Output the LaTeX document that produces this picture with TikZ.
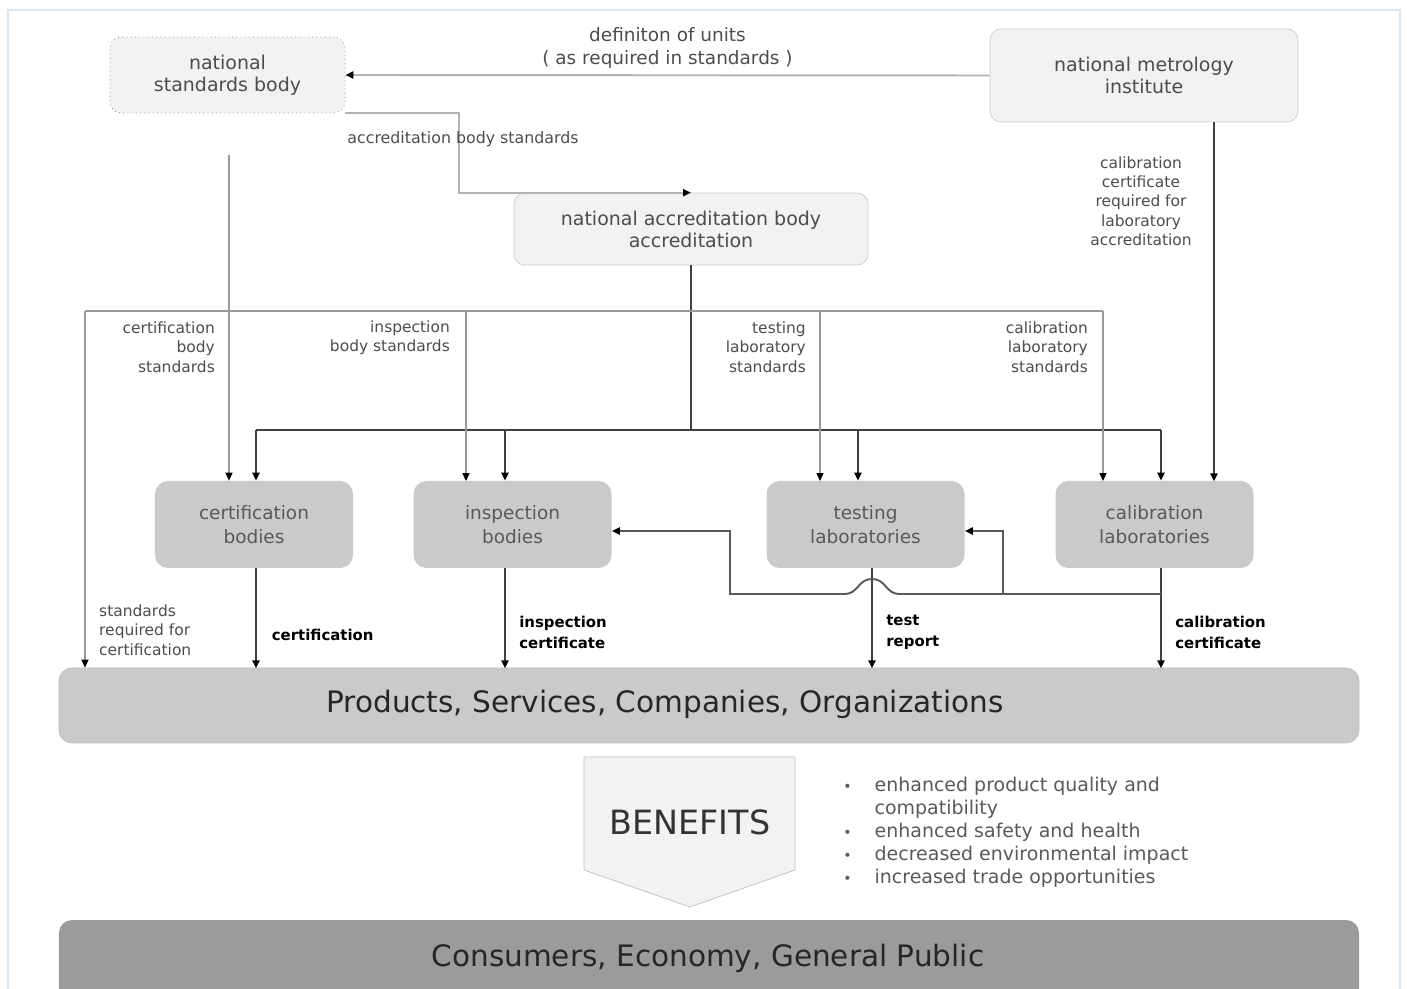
\documentclass[tikz,border=0pt]{standalone}
\usepackage{fontspec}
\setmainfont{DejaVu Sans}
\usetikzlibrary{arrows.meta}
\definecolor{paleface}{HTML}{F2F2F2}
\definecolor{labface}{HTML}{CACACA}
\definecolor{publicface}{HTML}{9B9B9B}
\definecolor{framecol}{HTML}{D8E7F2}
\newcommand{\fsz}[2]{\fontsize{#1}{#2}\selectfont}

\begin{document}
\begin{tikzpicture}[x=0.2mm, y=-0.2mm,
    >={Triangle[length=4.5pt,width=4pt,color=black]},
    paleblock/.style={draw=black!20, fill=paleface, rounded corners=2.2mm, align=center, text=black!70, font=\fsz{10.8}{12.5}},
    labblock/.style={fill=labface, rounded corners=2.6mm, align=center, text=black!65, font=\fsz{10.5}{13.7}, minimum width=39.6mm, minimum height=17.4mm, inner sep=0pt},
    barblock/.style={fill=labface, draw=black!25, rounded corners=2.6mm, minimum width=260mm, minimum height=15mm},
    notetext/.style={align=right, text=black!70, font=\fsz{8.8}{11}},
    outtext/.style={align=left, text=black, font=\bfseries\fsz{8.5}{12}},
    busline/.style={draw=black!75, line width=1.1pt},
    stdline/.style={draw=black!40, line width=0.6pt},
    softline/.style={draw=black!30, line width=1.1pt},
    feedline/.style={draw=black!65, line width=1.1pt}]

  \useasboundingbox (0,0) rectangle (1407,989);
  \clip (0,0) rectangle (1407,989);
  \draw[framecol, line width=0.8pt] (8,10) rectangle (1400,1005);

  % top row
  \node[paleblock, dotted, draw=black!55, minimum width=47mm, minimum height=15.2mm] (nsb) at (227.5,75) {national\\standards body};
  \node[paleblock, minimum width=61.6mm, minimum height=18.6mm] (nmi) at (1144,75.5) {national metrology\\institute};
  \node[paleblock, minimum width=70.8mm, minimum height=14.4mm] (nab) at (691,229) {national accreditation body\\accreditation};

  % bodies and laboratories
  \node[labblock] (cert) at (254,524.5) {certification\\bodies};
  \node[labblock] (insp) at (512.5,524.5) {inspection\\bodies};
  \node[labblock] (test) at (865.5,524.5) {testing\\laboratories};
  \node[labblock] (calib) at (1154.5,524.5) {calibration\\laboratories};

  % bars
  \node[barblock] (prod) at (709,705.5) {};
  \node[font=\fsz{16.8}{20}, text=black!85] (prodtext) at (665,704) {Products, Services, Companies, Organizations};
  \node[barblock, fill=publicface, draw=none, minimum height=18mm] (pub) at (709,965) {};
  \node[font=\fsz{16.8}{20}, text=black!85] (pubtext) at (708,958) {Consumers, Economy, General Public};

  % benefits
  \draw[draw=black!25, fill=paleface] (584,757) -- (795,757) -- (795,870) -- (690,907) -- (584,870) -- cycle;
  \node[font=\fsz{19}{22}, text=black!80] (benefits) at (690,822) {BENEFITS};
  \node[anchor=west, align=left, text=black!65, font=\fsz{10.8}{13}, inner sep=0pt] (gains) at (843,833)
    {\begin{tabular}{@{}l@{\hspace{4.6mm}}l@{}}
      {\fsz{8}{8}\textbullet} & enhanced product quality and\\
                              & compatibility\\
      {\fsz{8}{8}\textbullet} & enhanced safety and health\\
      {\fsz{8}{8}\textbullet} & decreased environmental impact\\
      {\fsz{8}{8}\textbullet} & increased trade opportunities
    \end{tabular}};

  % units and accreditation standards
  \draw[softline, ->] (nmi.west) -- (nsb.east)
    node[midway, above=0pt, notetext, align=center, font=\fsz{10.5}{13}] {definiton of units\\( as required in standards )};
  \draw[softline, ->] (nsb.south east) -- ++(114,0) |- (nab.north);
  \node[notetext, font=\fsz{9}{10}] (abs) at (463,139) {accreditation body standards};

  \coordinate (nsbfoot) at (229,155);
  \draw[stdline, ->] (nsbfoot) -- (nsbfoot |- cert.north);

  % accreditation bus
  \coordinate (hub) at (691,430);
  \draw[busline] (nab.south) -- (hub);
  \draw[busline] (256,430) -- (1161,430);
  \foreach \n/\d in {cert/0.4mm, insp/-1.5mm, test/-1.5mm, calib/1.3mm}
    \draw[busline, <-] ([xshift=\d]\n.north) -- ++(0,-51);

  % standards line
  \coordinate (stdL) at (85,311);
  \coordinate (stdR) at (1103,311);
  \draw[stdline] (stdL) -- (stdR);
  \draw[stdline, ->] (stdL) -- (stdL |- prod.north);
  \foreach \x in {466, 820, 1103}
    \draw[stdline, ->] (\x,311) -- ++(0,170);

  \node[notetext, anchor=east] at (221,347) {certification\\body\\standards};
  \node[notetext, anchor=east] at (456,338) {inspection\\body standards};
  \node[notetext, anchor=east] at (812,347) {testing\\laboratory\\standards};
  \node[notetext, anchor=east] at (1094,347) {calibration\\laboratory\\standards};
  \node[notetext, align=left, anchor=west] at (93,630) {standards\\required for\\certification};

  % metrology
  \draw[busline, ->] ([xshift=14mm]nmi.south) -- ++(0,359);
  \node[notetext, align=center] at (1141,201) {calibration\\certificate\\required for\\laboratory\\accreditation};

  % outputs
  \draw[busline, ->] ([xshift=0.4mm]cert.south) -- ++(0,100) node[outtext, pos=0.67, right=1.8mm] {certification};
  \draw[busline, ->] ([xshift=-1.5mm]insp.south) -- ++(0,100) node[outtext, pos=0.64, right=1.5mm] {inspection\\certificate};
  \draw[busline, ->] ([xshift=1.3mm]test.south) -- ++(0,100) node[outtext, pos=0.64, right=1.5mm] {test\\report};
  \draw[busline, ->] ([xshift=1.3mm]calib.south) -- ++(0,100) node[outtext, pos=0.64, right=1.5mm] {calibration\\certificate};

  % feedback
  \coordinate (fbR) at (1161,594);
  \draw[feedline, ->] (fbR) -- (899,594) .. controls (886,594) and (886,579) .. (872,579)
    .. controls (858,579) and (858,594) .. (845,594) -- (730,594) |- ([yshift=-1.3mm]insp.east);
  \draw[feedline, ->] (1003,594) |- ([yshift=-1.3mm]test.east);
\end{tikzpicture}
\end{document}
